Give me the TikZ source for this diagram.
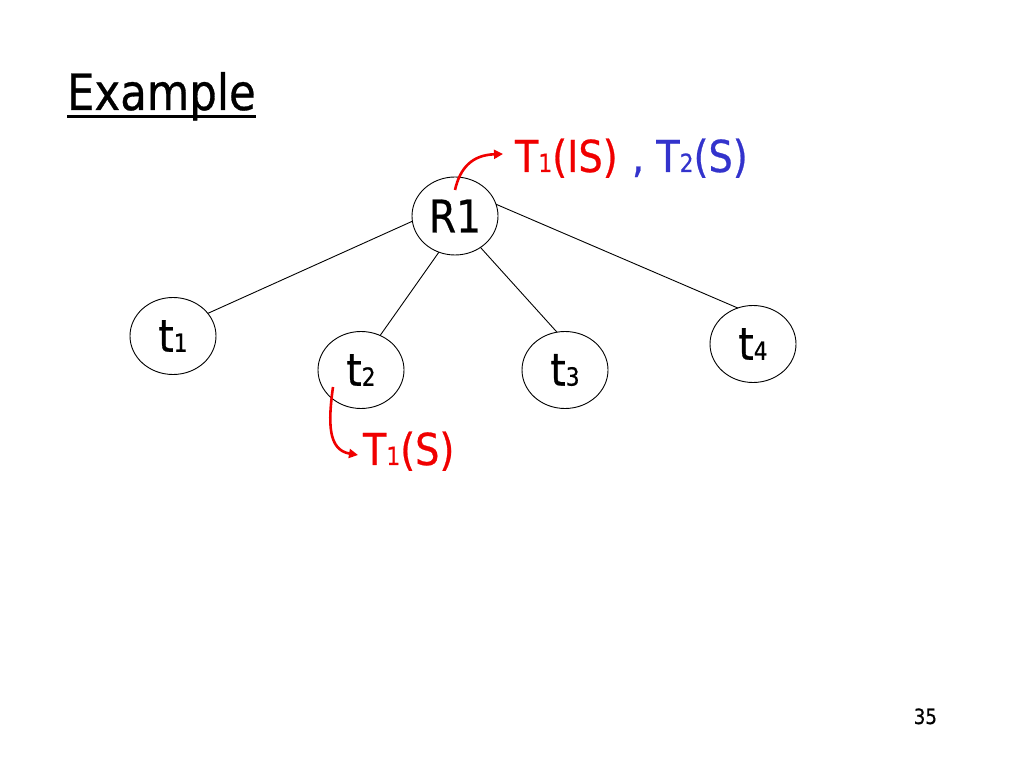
\documentclass[tikz,border=0pt]{standalone}
\usepackage{fontspec}
\setmainfont[FakeStretch=0.87,FakeBold=0.6]{DejaVu Sans}
\usetikzlibrary{arrows.meta,shapes.geometric}
\definecolor{lblred}{RGB}{240,0,0}
\definecolor{lblblue}{RGB}{51,51,204}
\newcommand{\sz}[1]{\fontsize{#1}{#1}\selectfont}
\newcommand{\sbx}[1]{{\sz{25}#1}}
\tikzset{
  treenode/.style={draw, ellipse, line width=0.9pt, inner sep=0pt, outer sep=0pt,
    minimum width=86pt, minimum height=77pt, font=\sz{45}},
  edge/.style={line width=0.9pt},
  lbl/.style={inner sep=0pt, outer sep=0pt, anchor=base west, font=\sz{44}},
  redarrow/.style={draw=lblred, line width=2.6pt, -{Triangle[length=9pt,width=9pt]}}
}
\begin{document}
\begin{tikzpicture}[x=1pt,y=1pt]
\useasboundingbox (0,0) rectangle (1024,768);
% title
\node[inner sep=0pt, outer sep=0pt, anchor=base west, font=\sz{50}] (title) at (67,658) {Example};
\draw[line width=3pt] ([yshift=-6.5pt]title.base west) -- ([yshift=-6.5pt]title.base east);
% nodes
\node[treenode, minimum height=78pt] (R1) at (455,552) {R1};
\node[treenode] (t1) at (173,432) {t\sbx{1}};
\node[treenode] (t2) at (361,398) {t\sbx{2}};
\node[treenode] (t3) at (565,398) {t\sbx{3}};
\node[treenode] (t4) at (753,424) {t\sbx{4}};
% edges
\draw[edge] (R1.187.5) -- (t1.33.3);
\draw[edge] (R1.246.1) -- (t2.61.3);
\draw[edge] (R1.309.8) -- (t3.102.2);
\draw[edge] (R1.16.9) -- (t4.113.2);
% labels
\node[lbl, text=lblred] (lockR) at (515,596) {T\sbx{1}(IS)};
\node[lbl, text=lblblue] (lockR2) at (632,596) {, T\sbx{2}(S)};
\node[lbl, text=lblred] (lockT) at (363,303) {T\sbx{1}(S)};
% arrows
\coordinate (a1s) at (455,578);
\coordinate (a1e) at (503,614);
\coordinate (a2s) at (333,381);
\coordinate (a2e) at (358,313);
\draw[redarrow] (a1s) .. controls (460,600) and (472,613) .. (a1e);
\draw[redarrow] (a2s) .. controls (328,345) and (328,318) .. (a2e);
% page number
\node[inner sep=0pt, outer sep=0pt, anchor=base east, font=\sz{21}] (pg) at (937,44) {35};
\end{tikzpicture}
\end{document}
